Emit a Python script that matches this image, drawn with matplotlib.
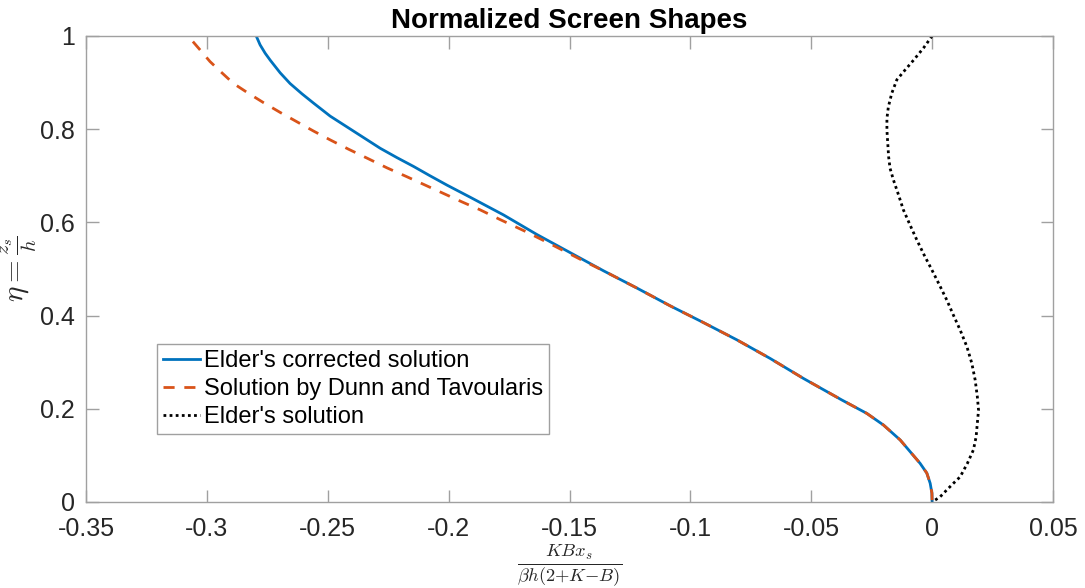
import numpy as np
import matplotlib
matplotlib.use('Agg')
import matplotlib.pyplot as plt

plt.rcParams['font.family'] = ['Liberation Sans', 'DejaVu Sans']
plt.rcParams['mathtext.fontset'] = 'cm'

# Elder's corrected solution
eta_corr = [1.0, 0.981, 0.963, 0.948, 0.921, 0.898, 0.876, 0.856, 0.828, 0.805,
            0.782, 0.759, 0.739, 0.72, 0.70, 0.680, 0.654, 0.616, 0.574, 0.535,
            0.496, 0.459, 0.421, 0.385, 0.348, 0.308, 0.265, 0.219, 0.190, 0.165,
            0.133, 0.108, 0.083, 0.062, 0.040, 0.019, 0.0]
x_corr = [-0.2796, -0.2780, -0.2759, -0.2738, -0.2697, -0.2656, -0.2607, -0.2559, -0.249, -0.2421,
          -0.2352, -0.2283, -0.2214, -0.2145, -0.2077, -0.2007, -0.1911, -0.1773, -0.1635, -0.1497,
          -0.1359, -0.1221, -0.1084, -0.0946, -0.0808, -0.067, -0.0532, -0.0374, -0.027, -0.0201,
          -0.0132, -0.0091, -0.005, -0.0022, -0.0008, -0.0001, 0.0]

# Solution by Dunn and Tavoularis
eta_dt = [0.988, 0.970, 0.945, 0.921, 0.898, 0.877, 0.857, 0.836, 0.816, 0.796,
          0.777, 0.757, 0.738, 0.717, 0.698, 0.680, 0.662, 0.644, 0.627, 0.606,
          0.581, 0.554, 0.521, 0.496, 0.459, 0.421, 0.385, 0.348, 0.308, 0.265,
          0.219, 0.190, 0.165, 0.133, 0.108, 0.083, 0.062, 0.040, 0.019, 0.0]
x_dt = [-0.3058, -0.3028, -0.2987, -0.2938, -0.289, -0.2828, -0.2766, -0.2697, -0.2628, -0.2559,
        -0.249, -0.2414, -0.2338, -0.2255, -0.2173, -0.2097, -0.2021, -0.1945, -0.187, -0.1787,
        -0.1684, -0.158, -0.1456, -0.1359, -0.1221, -0.1084, -0.0946, -0.0808, -0.067, -0.0532,
        -0.0374, -0.027, -0.0201, -0.0132, -0.0091, -0.005, -0.0022, -0.0008, -0.0001, 0.0]

# Elder's solution
eta_elder = [1.0, 0.974, 0.948, 0.927, 0.906, 0.877, 0.848, 0.823, 0.798, 0.741,
             0.716, 0.691, 0.659, 0.627, 0.594, 0.562, 0.530, 0.498, 0.466, 0.433,
             0.401, 0.369, 0.333, 0.298, 0.262, 0.226, 0.197, 0.169, 0.140, 0.112,
             0.083, 0.054, 0.040, 0.026, 0.011, 0.0]
x_elder = [0.0, -0.0036, -0.0077, -0.0112, -0.0146, -0.0167, -0.0181, -0.0187, -0.0187, -0.018,
           -0.0174, -0.016, -0.0139, -0.0119, -0.0091, -0.0063, -0.0033, -0.0001, 0.003, 0.0061,
           0.0088, 0.0116, 0.0144, 0.0164, 0.0178, 0.0187, 0.0192, 0.0187, 0.0182, 0.0171,
           0.0146, 0.0116, 0.0088, 0.0061, 0.0033, 0.0]

axis_gray = '#a0a0a0'
text_col = '#262626'

fig = plt.figure(figsize=(10.85, 5.88), dpi=100)
ax = fig.add_axes([0.0793, 0.1463, 0.8912, 0.7925])

ax.plot(x_corr, eta_corr, color='#0072BD', lw=2.0, label="Elder's corrected solution")
ax.plot(x_dt, eta_dt, color='#D95319', lw=2.0, linestyle=(0, (4, 3.5)),
        label='Solution by Dunn and Tavoularis')
ax.plot(x_elder, eta_elder, color='black', lw=2.0, linestyle=(0, (1, 1.2)),
        label="Elder's solution")

ax.set_xlim(-0.35, 0.05)
ax.set_ylim(0, 1)
ax.set_xticks([-0.35, -0.3, -0.25, -0.2, -0.15, -0.1, -0.05, 0, 0.05])
ax.set_xticklabels(['-0.35', '-0.3', '-0.25', '-0.2', '-0.15', '-0.1', '-0.05', '0', '0.05'])
ax.set_yticks([0, 0.2, 0.4, 0.6, 0.8, 1])
ax.set_yticklabels(['0', '0.2', '0.4', '0.6', '0.8', '1'])

for s in ax.spines.values():
    s.set_color(axis_gray)
    s.set_linewidth(1.0)
ax.tick_params(direction='in', length=9, width=1.0, color=axis_gray,
               labelsize=18, labelcolor=text_col, top=True, right=True)
ax.tick_params(axis='x', pad=11)
ax.tick_params(axis='y', pad=8)

ax.set_title('Normalized Screen Shapes', fontsize=20, fontweight='bold', pad=6)
ax.set_xlabel(r'$\frac{KBx_s}{\beta h(2{+}K{-}B)}$', fontsize=19, color=text_col)
ax.xaxis.set_label_coords(0.5, -0.085, transform=ax.transAxes)
ax.xaxis.label.set_va('top')
ax.set_ylabel(r'$\eta = \frac{z_s}{h}$', fontsize=21, color=text_col)
ax.yaxis.set_label_coords(-0.049, 0.5, transform=ax.transAxes)

leg = ax.legend(loc='lower left', bbox_to_anchor=(0.0734, 0.146), borderaxespad=0,
                fontsize=17, fancybox=False, framealpha=1, edgecolor=axis_gray,
                handlelength=1.55, handletextpad=0.2, labelspacing=0.25, borderpad=0.25)
leg.get_frame().set_linewidth(1.0)

fig.savefig('out.png', dpi=100)
